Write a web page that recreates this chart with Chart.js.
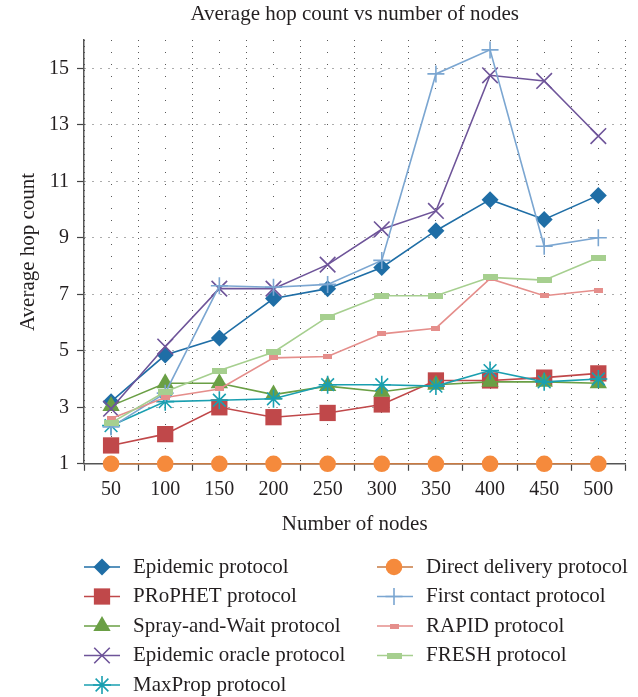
<!DOCTYPE html>
<html>
<head>
<meta charset="utf-8">
<script src="https://cdn.jsdelivr.net/npm/chart.js@4.4.1/dist/chart.umd.min.js"></script>
<style>
  html, body { margin: 0; padding: 0; background: #fff; }
</style>
</head>
<body>
<canvas id="hopChart" width="638" height="697"></canvas>
<script>
const nodes = [50, 100, 150, 200, 250, 300, 350, 400, 450, 500];
const xGrid = [25, 75, 125, 175, 225, 275, 325, 375, 425, 475, 525];
const yTicks = [1, 3, 5, 7, 9, 11, 13, 15];

const epidemic = [3.2, 4.85, 5.45, 6.85, 7.2, 7.95, 9.25, 10.35, 9.65, 10.5];
const prophet = [1.65, 2.05, 3.0, 2.65, 2.8, 3.1, 3.95, 3.95, 4.05, 4.2];
const sprayWait = [3.05, 3.85, 3.85, 3.45, 3.75, 3.55, 3.8, 3.9, 3.9, 3.85];
const epidemicOracle = [2.95, 5.15, 7.2, 7.2, 8.05, 9.3, 9.95, 14.75, 14.55, 12.6];
const maxProp = [2.35, 3.2, 3.25, 3.3, 3.8, 3.8, 3.75, 4.3, 3.9, 4.0];
const directDelivery = [1, 1, 1, 1, 1, 1, 1, 1, 1, 1];
const firstContact = [2.3, 3.5, 7.3, 7.25, 7.35, 8.2, 14.8, 15.65, 8.7, 9.0];
const rapid = [2.6, 3.35, 3.65, 4.75, 4.8, 5.6, 5.8, 7.55, 6.95, 7.15];
const fresh = [2.45, 3.55, 4.3, 4.95, 6.2, 6.95, 6.95, 7.6, 7.5, 8.3];

const FONT = "'Liberation Serif', 'Times New Roman', serif";
const TEXT = "#231f20";
const TITLE = "Average hop count vs number of nodes";

// small flat bars used as markers for RAPID / FRESH
const barMarker = (w, h, color) => {
  const c = document.createElement("canvas");
  c.width = w;
  c.height = h;
  const g = c.getContext("2d");
  g.fillStyle = color;
  g.fillRect(0, 0, w, h);
  return c;
};

const series = [
  { label: "Epidemic protocol", data: epidemic, line: "#1f6ea6", fill: "#1f6ea6", style: "rectRot", r: 8.5 },
  { label: "PRoPHET protocol", data: prophet, line: "#c0484a", fill: "#c0484a", style: "rect", r: 11.5 },
  { label: "Spray-and-Wait protocol", data: sprayWait, line: "#6a9f45", fill: "#6a9f45", style: "triangle", r: 10 },
  { label: "Epidemic oracle protocol", data: epidemicOracle, line: "#6e5499", fill: "#6e5499", style: "crossRot", r: 11 },
  { label: "MaxProp protocol", data: maxProp, line: "#1a9fb0", fill: "#1a9fb0", style: "star", r: 9 },
  { label: "Direct delivery protocol", data: directDelivery, line: "#c97a42", fill: "#f58a3c", style: "circle", r: 8.3 },
  { label: "First contact protocol", data: firstContact, line: "#7ba6d1", fill: "#7ba6d1", style: "cross", r: 8.5 },
  { label: "RAPID protocol", data: rapid, line: "#e58e8b", fill: "#e58e8b", style: barMarker(9, 5, "#e58e8b"), r: 5 },
  { label: "FRESH protocol", data: fresh, line: "#a6cf8f", fill: "#a6cf8f", style: barMarker(15, 6, "#a6cf8f"), r: 6 },
];

const isStroked = (style) => ["crossRot", "cross", "star"].includes(style);

const datasets = series.map((s, i) => ({
  label: s.label,
  data: s.data.map((v, j) => ({ x: nodes[j], y: v })),
  borderColor: s.line,
  backgroundColor: s.fill,
  borderWidth: 1.6,
  pointStyle: s.style,
  pointRadius: s.r,
  pointHoverRadius: s.r,
  pointBorderColor: s.fill,
  pointBackgroundColor: s.fill,
  pointBorderWidth: isStroked(s.style) ? 1.6 : 0,
  tension: 0,
  clip: false,
  order: -i,
}));

// title centred over the plot area + two-column legend under the axes
const titleAndLegend = {
  id: "titleAndLegend",
  afterDraw(chart) {
    const ctx = chart.ctx;
    const area = chart.chartArea;
    ctx.save();
    ctx.fillStyle = TEXT;
    ctx.font = "21px " + FONT;
    ctx.textBaseline = "middle";
    ctx.textAlign = "center";
    ctx.fillText(TITLE, (area.left + area.right) / 2, 14);

    const cols = [
      { items: [0, 1, 2, 3, 4], x0: 84, x1: 120, mx: 102, tx: 133 },
      { items: [5, 6, 7, 8], x0: 377, x1: 413, mx: 394, tx: 426 },
    ];
    cols.forEach((col) => {
      col.items.forEach((idx, row) => {
        const s = series[idx];
        const y = 567 + row * 29.5;
        ctx.strokeStyle = s.line;
        ctx.lineWidth = 1.6;
        ctx.setLineDash([]);
        ctx.beginPath();
        ctx.moveTo(col.x0, y);
        ctx.lineTo(col.x1, y);
        ctx.stroke();
        ctx.fillStyle = s.fill;
        ctx.strokeStyle = s.fill;
        const bw = isStroked(s.style) ? 1.6 : 0;
        ctx.lineWidth = bw;
        Chart.helpers.drawPoint(ctx, { pointStyle: s.style, radius: s.r, borderWidth: bw, rotation: 0 }, col.mx, y);
        ctx.fillStyle = TEXT;
        ctx.font = "21px " + FONT;
        ctx.textBaseline = "middle";
        ctx.textAlign = "left";
        ctx.fillText(s.label, col.tx, y);
      });
    });
    ctx.restore();
  },
};

new Chart(document.getElementById("hopChart"), {
  type: "line",
  data: { datasets },
  plugins: [titleAndLegend],
  options: {
    responsive: false,
    animation: false,
    layout: { padding: { left: 0, right: 8, top: 40, bottom: 160 } },
    plugins: {
      legend: { display: false },
      tooltip: { enabled: false },
      title: { display: false },
    },
    scales: {
      x: {
        type: "linear",
        min: 25,
        max: 525,
        afterBuildTicks: (axis) => {
          axis.ticks = xGrid.concat(nodes).sort((a, b) => a - b).map((v) => ({ value: v }));
        },
        ticks: {
          autoSkip: false,
          maxRotation: 0,
          padding: 7,
          color: TEXT,
          font: { family: FONT, size: 20 },
          callback: (v) => (nodes.includes(v) ? String(v) : ""),
        },
        grid: {
          color: "rgba(60,60,60,0.85)",
          lineWidth: 1,
          tickLength: 7,
          tickWidth: 1.2,
          tickBorderDash: [],
          tickColor: (c) => (c.tick && nodes.includes(c.tick.value) ? "rgba(0,0,0,0)" : "#444"),
        },
        border: {
          color: "#555",
          width: 1.5,
          dash: (c) => (c.tick && nodes.includes(c.tick.value) ? [1, 11] : [1, 5]),
        },
        title: {
          display: true,
          text: "Number of nodes",
          color: TEXT,
          font: { family: FONT, size: 21 },
          padding: { top: 3, bottom: 0 },
        },
      },
      y: {
        type: "linear",
        min: 1,
        max: 16,
        afterBuildTicks: (axis) => {
          axis.ticks = yTicks.map((v) => ({ value: v }));
        },
        afterFit: (axis) => {
          axis.width = 84;
        },
        ticks: {
          padding: 8,
          color: TEXT,
          font: { family: FONT, size: 20 },
        },
        grid: {
          color: "rgba(60,60,60,0.85)",
          lineWidth: 1,
          tickLength: 7,
          tickWidth: 1.2,
          tickBorderDash: [],
          tickColor: "#444",
        },
        border: { color: "#555", width: 1.5, dash: [1, 7] },
        title: {
          display: true,
          text: "Average hop count",
          color: TEXT,
          font: { family: FONT, size: 21 },
          padding: { top: 16, bottom: 0 },
        },
      },
    },
  },
});
</script>
</body>
</html>
